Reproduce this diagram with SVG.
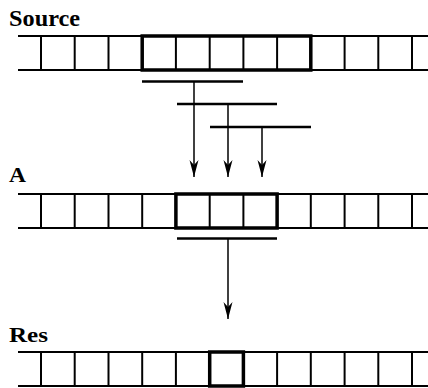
<svg xmlns="http://www.w3.org/2000/svg" width="428" height="388" viewBox="0 0 428 388">
<style>
.lbl{font-family:"Liberation Serif","Times New Roman",serif;font-weight:bold;fill:#000}
.rl{stroke:#000;stroke-width:2.2;fill:none}
.dv{stroke:#000;stroke-width:2;fill:none}
.bd{stroke:#000;stroke-width:3.5;fill:none}
.bar{stroke:#000;stroke-width:2.5;fill:none}
.cn{stroke:#000;stroke-width:1.5;fill:none;marker-end:url(#ah)}
</style>
<defs>
<marker id="ah" markerUnits="userSpaceOnUse" markerWidth="20" markerHeight="12" viewBox="-18 -6 19 12" refX="0" refY="0" orient="auto">
<path d="M0,0 L-17,-4.5 L-12,0 L-17,4.5 Z" fill="#000"/>
</marker>
<g id="cells">
<line class="dv" x1="41" y1="0" x2="41" y2="34"/>
<line class="dv" x1="74.7" y1="0" x2="74.7" y2="34"/>
<line class="dv" x1="108.5" y1="0" x2="108.5" y2="34"/>
<line class="dv" x1="142.2" y1="0" x2="142.2" y2="34"/>
<line class="dv" x1="175.9" y1="0" x2="175.9" y2="34"/>
<line class="dv" x1="209.7" y1="0" x2="209.7" y2="34"/>
<line class="dv" x1="243.4" y1="0" x2="243.4" y2="34"/>
<line class="dv" x1="277.1" y1="0" x2="277.1" y2="34"/>
<line class="dv" x1="310.8" y1="0" x2="310.8" y2="34"/>
<line class="dv" x1="344.6" y1="0" x2="344.6" y2="34"/>
<line class="dv" x1="378.3" y1="0" x2="378.3" y2="34"/>
<line class="dv" x1="412" y1="0" x2="412" y2="34"/>
<line class="rl" x1="18" y1="0" x2="428" y2="0"/>
<line class="rl" x1="18" y1="34" x2="428" y2="34"/>
</g>
</defs>
<g id="source">
<text class="lbl" x="9" y="26" font-size="24" textLength="71" lengthAdjust="spacingAndGlyphs">Source</text>
<use href="#cells" transform="translate(0,36)"/>
<rect class="bd" x="142.2" y="36" width="168.6" height="34"/>
</g>
<g id="a">
<text class="lbl" x="9" y="182" font-size="20" textLength="17" lengthAdjust="spacingAndGlyphs">A</text>
<use href="#cells" transform="translate(0,194)"/>
<rect class="bd" x="175.9" y="194" width="101.2" height="34"/>
</g>
<g id="res">
<text class="lbl" x="9" y="342" font-size="20" textLength="39" lengthAdjust="spacingAndGlyphs">Res</text>
<use href="#cells" transform="translate(0,352)"/>
<rect class="bd" x="209.7" y="352" width="33.7" height="34"/>
</g>
<g id="connectors">
<line class="bar" x1="142" y1="81.5" x2="243" y2="81.5"/>
<line class="bar" x1="177" y1="104" x2="277" y2="104"/>
<line class="bar" x1="210" y1="127" x2="311" y2="127"/>
<line class="cn" x1="194" y1="81.5" x2="194" y2="177"/>
<line class="cn" x1="228" y1="104" x2="228" y2="177"/>
<line class="cn" x1="262" y1="127" x2="262" y2="177"/>
<line class="bar" x1="177" y1="238.5" x2="277" y2="238.5"/>
<line class="cn" x1="228" y1="238.5" x2="228" y2="319"/>
</g>
</svg>
